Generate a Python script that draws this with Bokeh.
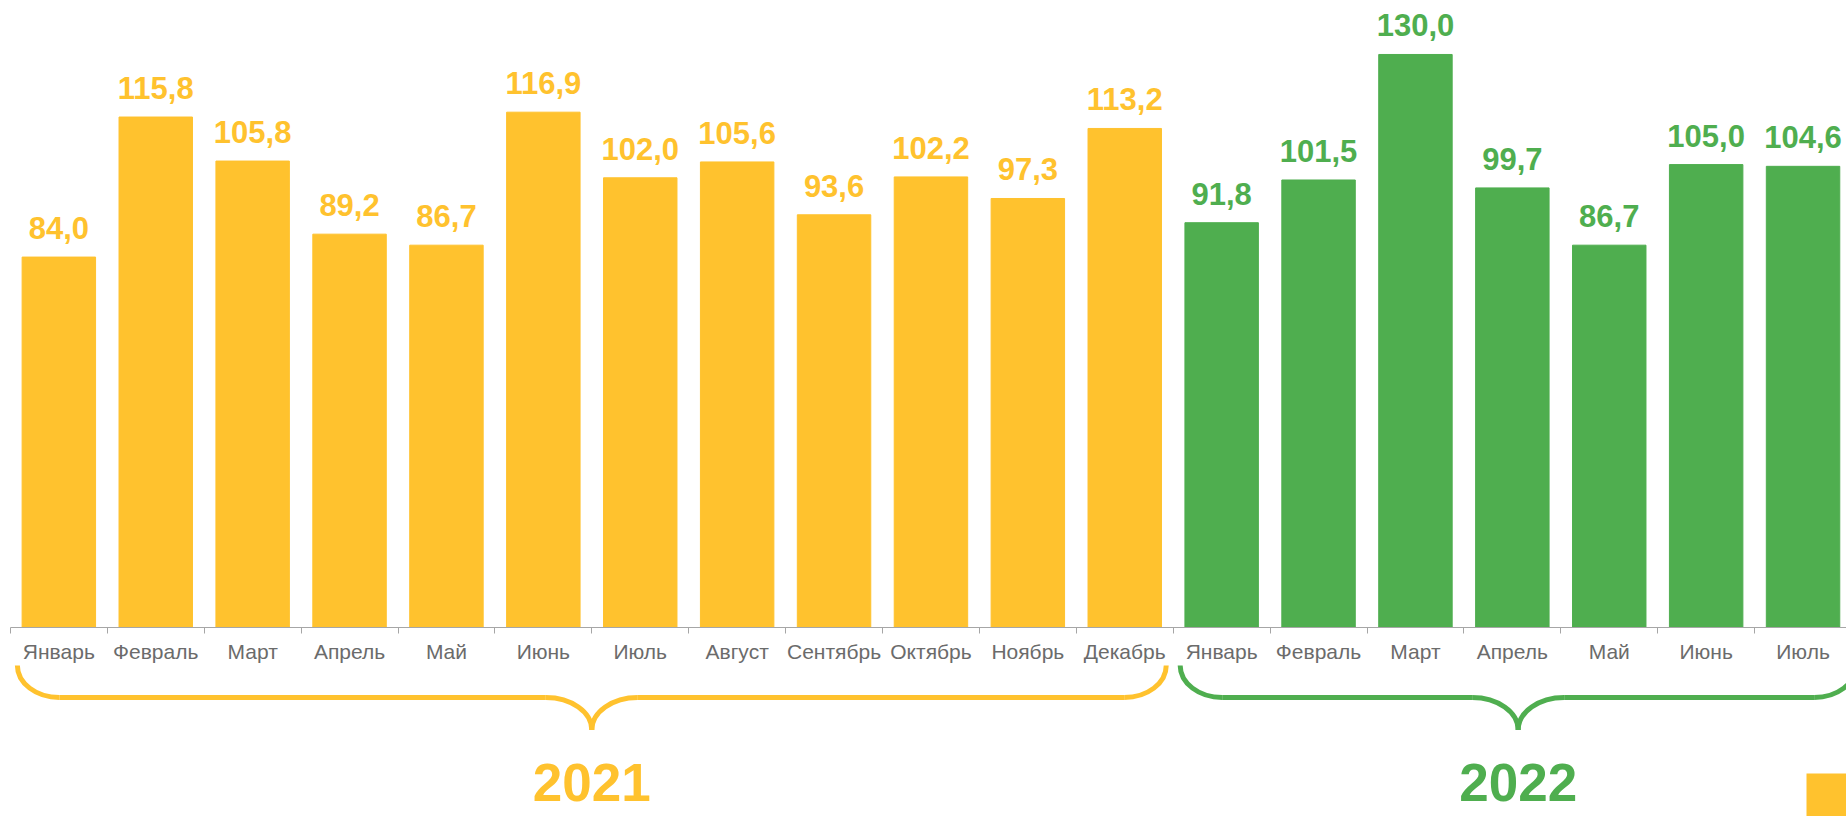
from bokeh.plotting import figure
from bokeh.models import ColumnDataSource, LinearAxis, FixedTicker, Range1d
from bokeh.core.properties import value
from bokeh.embed import file_html
from bokeh.resources import INLINE

# ---------------- data ----------------
months_2021 = ["Январь", "Февраль", "Март", "Апрель", "Май", "Июнь",
               "Июль", "Август", "Сентябрь", "Октябрь", "Ноябрь", "Декабрь"]
values_2021 = [84.0, 115.8, 105.8, 89.2, 86.7, 116.9, 102.0, 105.6, 93.6, 102.2, 97.3, 113.2]
months_2022 = ["Январь", "Февраль", "Март", "Апрель", "Май", "Июнь", "Июль"]
values_2022 = [91.8, 101.5, 130.0, 99.7, 86.7, 105.0, 104.6]
years = ["2021", "2022"]

YELLOW = "#FFC22E"
GREEN = "#4FAE4F"
GREY_TXT = "#6B6B6B"
GREY_AX = "#A6A6A6"

# ---------------- layout constants ----------------
W, H = 1846, 816
PX_X = 96.9        # pixels per category
PX_Y = 4.404       # pixels per value unit
X0 = 9.9           # first category boundary, px from frame left
Y0 = 626.5         # baseline, px from frame top

x_start = -X0 / PX_X
x_end = x_start + W / PX_X
y_end = Y0 / PX_Y
y_start = y_end - H / PX_Y


def dy(px):
    """pixels below the baseline -> data units"""
    return -px / PX_Y


def dx(px):
    return px / PX_X


months = months_2021 + months_2022
vals = values_2021 + values_2022
colors = [YELLOW] * len(values_2021) + [GREEN] * len(values_2022)
xs = [i + 0.5 for i in range(len(vals))]
labels = [f"{v:.1f}".replace(".", ",") for v in vals]

src = ColumnDataSource(dict(x=xs, top=vals, color=colors, label=labels))

p = figure(width=W, height=H, output_backend="svg", toolbar_location=None,
           x_axis_type=None, y_axis_type=None,
           x_range=Range1d(x_start, x_end), y_range=Range1d(y_start, y_end),
           min_border=0, min_border_left=0, min_border_right=0,
           min_border_top=0, min_border_bottom=0)
p.outline_line_color = None
p.background_fill_color = "white"
p.border_fill_color = "white"

p.vbar(x="x", top="top", bottom=0, width=0.758, color="color", source=src)

p.text(x="x", y="top", text="label", source=src, text_color="color",
       text_font=value("Liberation Sans"), text_font_style="bold",
       text_font_size="31px", text_align="center", text_baseline="alphabetic",
       y_offset=-29)

# x axis drawn at y = 0
ticker = FixedTicker(ticks=xs, minor_ticks=list(range(len(vals) + 1)))
ax = LinearAxis(ticker=ticker, fixed_location=0)
ax.major_label_overrides = {x: m for x, m in zip(xs, months)}
ax.major_tick_line_color = None
ax.major_tick_out = 0
ax.major_tick_in = 0
ax.minor_tick_in = 0
ax.minor_tick_out = 6
ax.minor_tick_line_color = GREY_AX
ax.axis_line_color = GREY_AX
ax.axis_line_width = 1
ax.major_label_text_font = "Liberation Sans"
ax.major_label_text_font_size = "21px"
ax.major_label_text_color = GREY_TXT
ax.major_label_standoff = 7
ax.bounds = (0, x_end + 1)
p.add_layout(ax, "below")


# braces
def brace(x0, x1, color):
    k = 0.5523
    yt, ym, yb = dy(38.5), dy(70.5), dy(103)
    hx = dx(42)
    cx_ = dx(46)
    c = (x0 + x1) / 2
    bz = dict(x0=[], y0=[], x1=[], y1=[], cx0=[], cy0=[], cx1=[], cy1=[])

    def add(a, b, c0, c1):
        bz["x0"].append(a[0]); bz["y0"].append(a[1])
        bz["x1"].append(b[0]); bz["y1"].append(b[1])
        bz["cx0"].append(c0[0]); bz["cy0"].append(c0[1])
        bz["cx1"].append(c1[0]); bz["cy1"].append(c1[1])

    # left hook
    add((x0, yt), (x0 + hx, ym), (x0, yt + k * (ym - yt)), (x0 + hx * (1 - k), ym))
    # right hook
    add((x1, yt), (x1 - hx, ym), (x1, yt + k * (ym - yt)), (x1 - hx * (1 - k), ym))
    # center, left half
    add((c - cx_, ym), (c, yb), (c - cx_ * (1 - k), ym), (c, yb + k * (ym - yb)))
    # center, right half
    add((c + cx_, ym), (c, yb), (c + cx_ * (1 - k), ym), (c, yb + k * (ym - yb)))
    p.bezier(source=ColumnDataSource(bz), x0="x0", y0="y0", x1="x1", y1="y1",
             cx0="cx0", cy0="cy0", cx1="cx1", cy1="cy1",
             line_color=color, line_width=5)
    p.segment(x0=[x0 + hx, c + cx_], y0=[ym, ym], x1=[c - cx_, x1 - hx], y1=[ym, ym],
              line_color=color, line_width=5)
    return c


inset = 0.072
c21 = brace(0 + inset, len(values_2021) - inset, YELLOW)
c22 = brace(len(values_2021) + inset, len(vals) + 0.12 - inset, GREEN)

year_src = ColumnDataSource(dict(x=[c21, c22], y=[dy(155)] * 2, text=years,
                                 color=[YELLOW, GREEN]))
p.text(x="x", y="y", text="text", text_color="color", source=year_src,
       text_font=value("Liberation Sans"), text_font_style="bold",
       text_font_size="53px", text_align="center", text_baseline="alphabetic")

# partially visible legend marker at the bottom-right corner
p.quad(left=[x_start + dx(1806)], right=[x_end + 1], top=[dy(146.5)], bottom=[y_start - 5],
       color=YELLOW, line_color=None)

open("out.html", "w").write(file_html(p, INLINE))
